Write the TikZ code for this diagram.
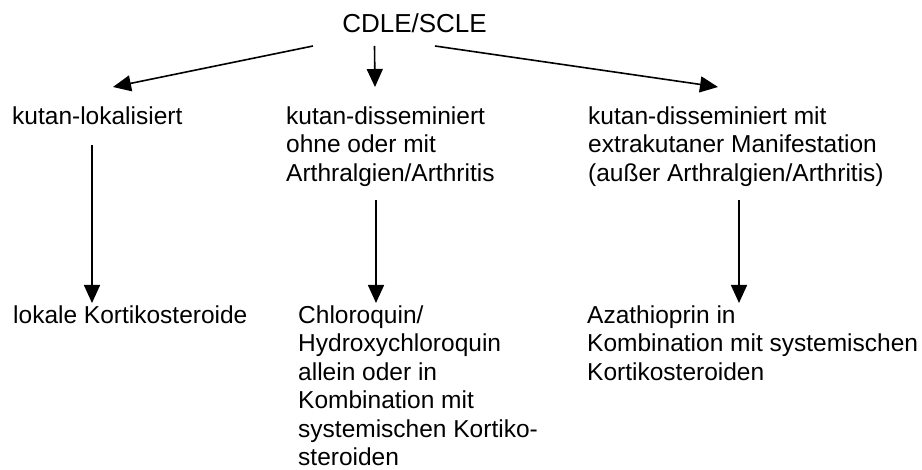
\documentclass[tikz,border=0pt]{standalone}
\usepackage{fontspec}
\setmainfont{Liberation Sans}
\usepackage{tikz}
\usetikzlibrary{arrows.meta,calc}

\begin{document}
\begin{tikzpicture}[x=1pt,y=-1pt,
	txt/.style={inner sep=0pt,align=left,anchor=north west,font=\fontsize{24.5}{28.5}\selectfont}]
	\useasboundingbox (0,0) rectangle (922,470);
	\node[inner sep=0pt,anchor=base,font=\fontsize{26}{30}\selectfont] (A) at (414.5,33) {CDLE/SCLE};
	\node[txt] (B1) at (12,106.4) {kutan-lokalisiert};
	\node[txt] (B2) at (286,106.4) {kutan-disseminiert\\ohne oder mit\\Arthralgien/Arthritis};
	\node[txt] (B3) at (588,106.4) {kutan-disseminiert mit\\extrakutaner Manifestation\\(außer Arthralgien/Arthritis)};
	\node[txt] (C1) at (13,305.4) {lokale Kortikosteroide};
	\node[txt] (C2) at (298,305.4) {Chloroquin/\\Hydroxychloroquin\\allein oder in\\Kombination mit\\systemischen Kortiko-\\steroiden};
	\node[txt] (C3) at (587,305.4) {Azathioprin in\\Kombination mit systemischen\\Kortikosteroiden};
	%
	\path[->,line width=1.6pt,>={Triangle[length=18pt,width=16pt]}]
	($(A.base)+(-101.5,13)$) edge ($(B1.north west)+(101,-19.4)$)
	($(A.base)+(-40,13)$) edge ($(B2.north west)+(89,-19.4)$)
	($(A.base)+(20.5,13)$) edge ($(B3.north west)+(130,-19.4)$)
	($(B1.north west)+(80,38.6)$) edge ($(C1.north west)+(79,-2.4)$)
	($(B2.north west)+(90,93.6)$) edge ($(C2.north west)+(78,-2.4)$)
	($(B3.north west)+(151,93.6)$) edge ($(C3.north west)+(152,-2.4)$);
\end{tikzpicture}
\end{document}
